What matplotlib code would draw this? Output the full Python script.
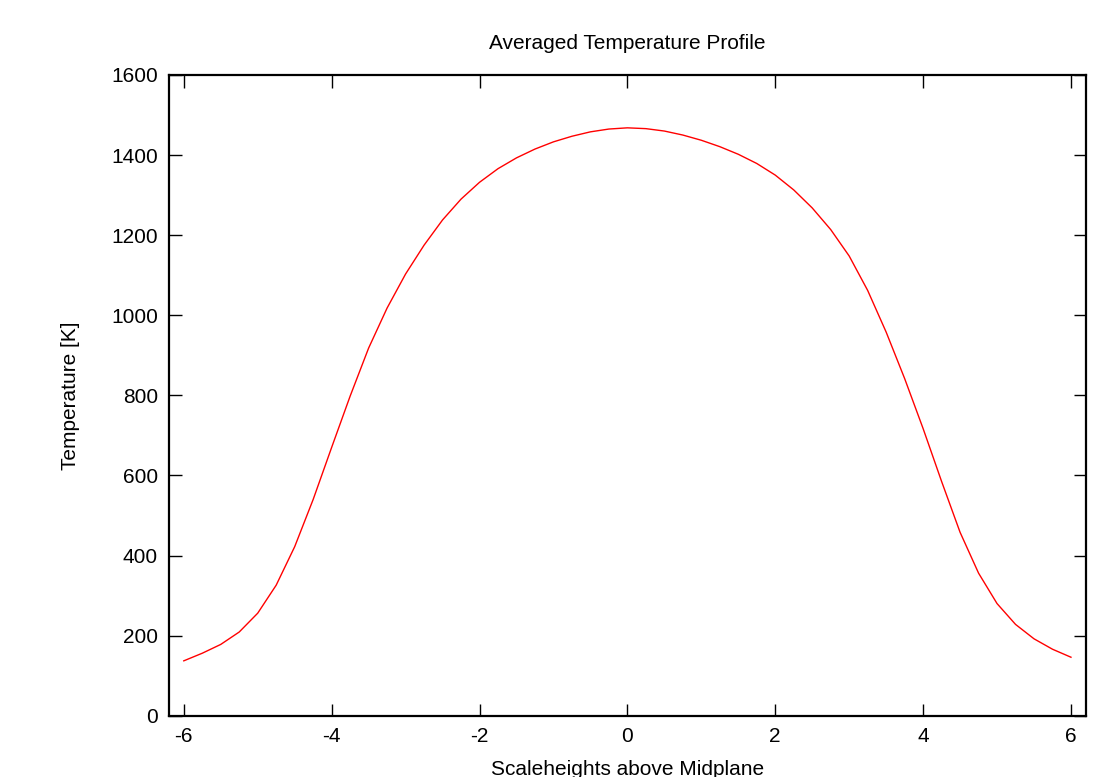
import matplotlib
matplotlib.use("Agg")
from matplotlib import pyplot as plt

# scaleheights above midplane, sampled every 0.25
height = [-6.0, -5.75, -5.5, -5.25, -5.0, -4.75, -4.5, -4.25, -4.0, -3.75,
          -3.5, -3.25, -3.0, -2.75, -2.5, -2.25, -2.0, -1.75, -1.5, -1.25,
          -1.0, -0.75, -0.5, -0.25, 0.0, 0.25, 0.5, 0.75, 1.0, 1.25,
          1.5, 1.75, 2.0, 2.25, 2.5, 2.75, 3.0, 3.25, 3.5, 3.75,
          4.0, 4.25, 4.5, 4.75, 5.0, 5.25, 5.5, 5.75, 6.0]

# averaged temperature [K]
temp = [137, 156, 178, 209, 256, 326, 422, 540, 670, 798,
        918, 1018, 1103, 1175, 1238, 1290, 1332, 1366, 1393, 1415,
        1433, 1447, 1458, 1465, 1468, 1466, 1460, 1450, 1437, 1421,
        1402, 1379, 1350, 1313, 1268, 1214, 1148, 1062, 958, 842,
        717, 585, 458, 356, 280, 228, 192, 166, 146]

xticks = [-6, -4, -2, 0, 2, 4, 6]
yticks = [0, 200, 400, 600, 800, 1000, 1200, 1400, 1600]


def main():
    matplotlib.rcParams.update({'font.size': 15,
                                'axes.unicode_minus': False,
                                'font.family': ['Liberation Sans', 'DejaVu Sans']})

    fig = plt.figure(figsize=(11.06, 7.77), dpi=100)
    ax = fig.add_axes([0.1528, 0.0789, 0.8289, 0.8246])

    ax.plot(height, temp, color='#ff0000', linewidth=1.0)

    ax.set_xlim(-6.2, 6.2)
    ax.set_ylim(0, 1600)
    ax.set_xticks(xticks)
    ax.set_yticks(yticks)

    ax.tick_params(direction='in', length=9, width=1.0, top=True, right=True,
                   labelsize=15, pad=8)
    for s in ax.spines.values():
        s.set_linewidth(1.6)

    ax.set_title('Averaged Temperature Profile', fontsize=15, pad=19)
    ax.set_xlabel('Scaleheights above Midplane', fontsize=15, labelpad=10)
    ax.set_ylabel('Temperature [K]', fontsize=15, labelpad=22)

    fig.savefig('out.png', dpi=100)


if __name__ == '__main__':
    main()
